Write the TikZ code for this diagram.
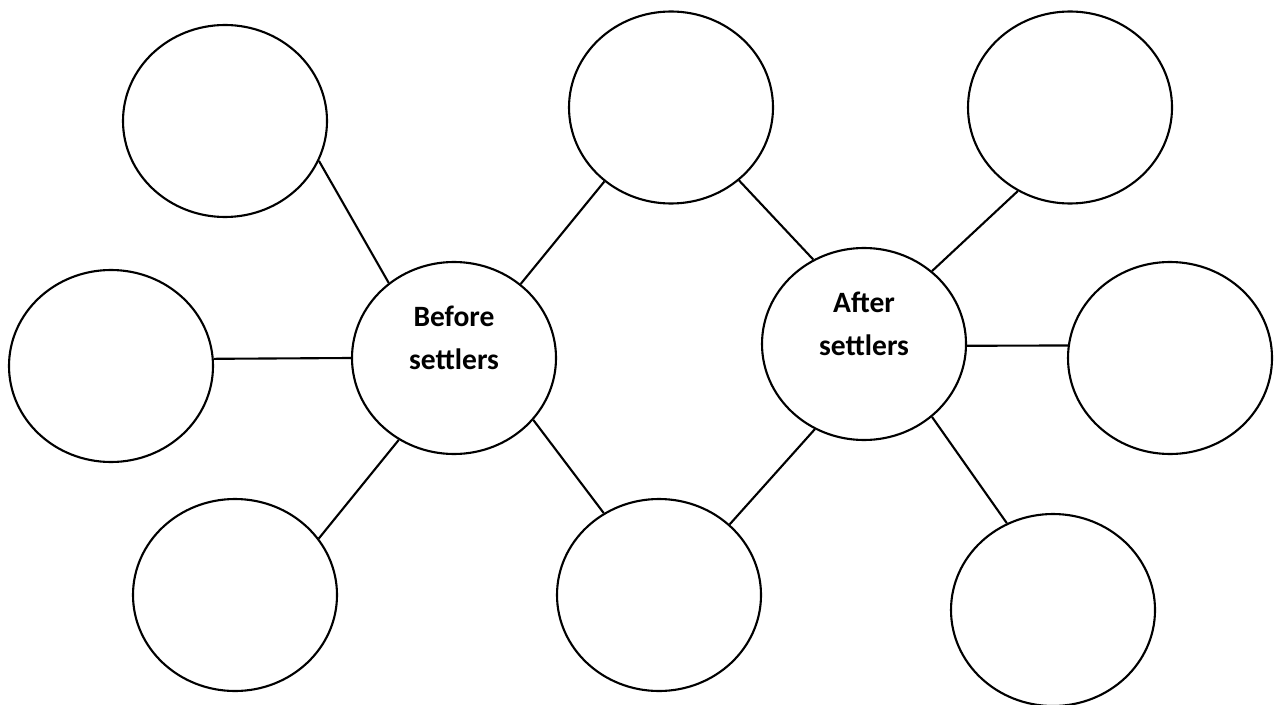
\documentclass[tikz,border=0pt]{standalone}
\usepackage{fontspec}
\setmainfont{Carlito}
\usepackage{tikz}
\usetikzlibrary{shapes.geometric}

\begin{document}
\begin{tikzpicture}[x=1cm,y=1cm,
  bubble/.style={draw=black,line width=0.6pt,ellipse,minimum width=2.04cm,minimum height=1.92cm,inner sep=0pt},
  spoke/.style={draw=black,line width=0.6pt},
  hubtext/.style={align=center,font=\fontsize{8.4}{12.2}\selectfont\bfseries,yshift=0.2cm}]
\path[use as bounding box] (0,0) rectangle (12.74,7.04);
% left side
\node[bubble] (tl) at (2.25,5.83) {};
\node[bubble] (lm) at (1.11,3.38) {};
\node[bubble] (bl) at (2.35,1.09) {};
\node[bubble,label={[hubtext]center:Before\\settlers}] (before) at (4.54,3.46) {};
% middle
\node[bubble] (tm) at (6.71,5.965) {};
\node[bubble] (bm) at (6.59,1.09) {};
% right side
\node[bubble,label={[hubtext]center:After\\settlers}] (after) at (8.64,3.60) {};
\node[bubble] (tr) at (10.70,5.965) {};
\node[bubble] (rm) at (11.70,3.46) {};
\node[bubble] (br) at (10.53,0.94) {};
% spokes
\draw[spoke] (tl.-23.6) -- (before.131);
\draw[spoke] (lm.4.5) -- (before.180);
\draw[spoke] (bl.34) -- (before.-124);
\draw[spoke] (before.48) -- (tm.-132);
\draw[spoke] (before.-38.6) -- (bm.124);
\draw[spoke] (tm.-47) -- (after.121.6);
\draw[spoke] (bm.45.8) -- (after.-120.7);
\draw[spoke] (after.47) -- (tr.-122.5);
\draw[spoke] (after.-1) -- (rm.173.4);
\draw[spoke] (after.-47.8) -- (br.118);
\end{tikzpicture}
\end{document}
